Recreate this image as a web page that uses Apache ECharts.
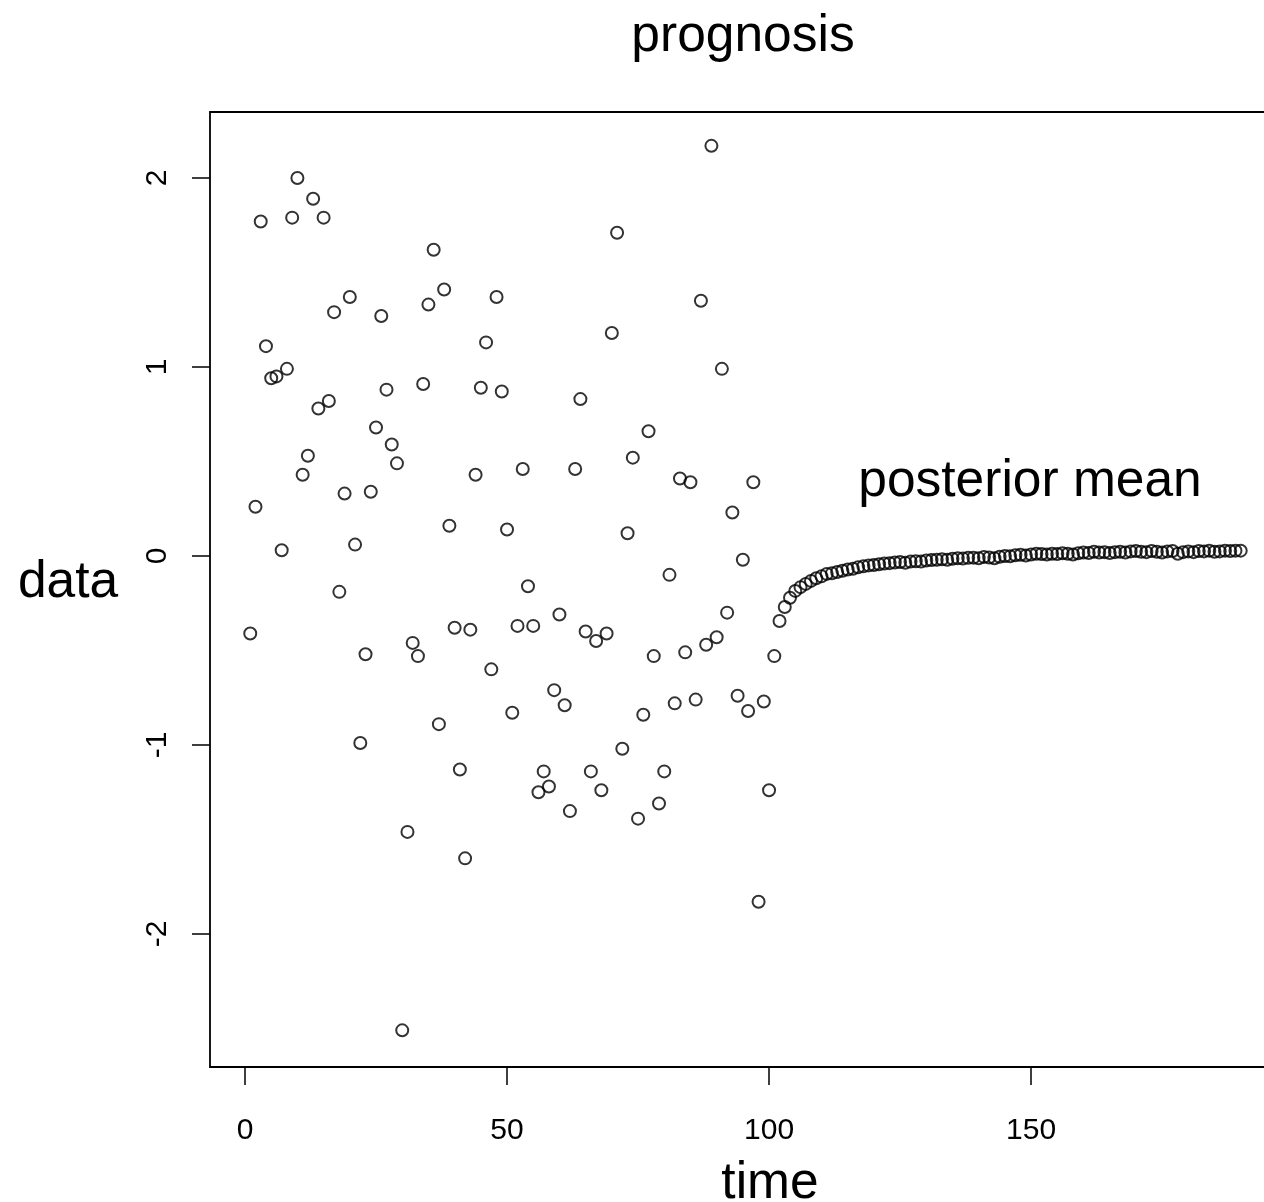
<!DOCTYPE html>
<html>
<head>
<meta charset="utf-8">
<script src="https://cdn.jsdelivr.net/npm/echarts@6/dist/echarts.min.js"></script>
<style>
html,body{margin:0;padding:0;background:#fff;}
#chart{width:1264px;height:1202px;}
</style>
</head>
<body>
<div id="chart"></div>
<script>
// observed data, t = 1..100
var observed = [
 -0.41, 0.26, 1.77, 1.11, 0.94, 0.95, 0.03, 0.99, 1.79, 2.00,
  0.43, 0.53, 1.89, 0.78, 1.79, 0.82, 1.29,-0.19, 0.33, 1.37,
  0.06,-0.99,-0.52, 0.34, 0.68, 1.27, 0.88, 0.59, 0.49,-2.51,
 -1.46,-0.46,-0.53, 0.91, 1.33, 1.62,-0.89, 1.41, 0.16,-0.38,
 -1.13,-1.60,-0.39, 0.43, 0.89, 1.13,-0.60, 1.37, 0.87, 0.14,
 -0.83,-0.37, 0.46,-0.16,-0.37,-1.25,-1.14,-1.22,-0.71,-0.31,
 -0.79,-1.35, 0.46, 0.83,-0.40,-1.14,-0.45,-1.24,-0.41, 1.18,
  1.71,-1.02, 0.12, 0.52,-1.39,-0.84, 0.66,-0.53,-1.31,-1.14,
 -0.10,-0.78, 0.41,-0.51, 0.39,-0.76, 1.35,-0.47, 2.17,-0.43,
  0.99,-0.30, 0.23,-0.74,-0.02,-0.82, 0.39,-1.83,-0.77,-1.24
];
// posterior mean, t = 101..190
var posteriorMean = [
 -0.53,-0.344,-0.27,-0.221,-0.185,-0.165,-0.148,-0.132,-0.118,-0.108,
 -0.095,-0.092,-0.085,-0.078,-0.072,-0.068,-0.060,-0.055,-0.050,-0.048,
 -0.044,-0.040,-0.038,-0.035,-0.032,-0.036,-0.030,-0.028,-0.030,-0.024,
 -0.022,-0.020,-0.018,-0.020,-0.015,-0.012,-0.014,-0.010,-0.009,-0.012,
 -0.005,-0.008,-0.012,-0.004, 0.000,-0.002, 0.004, 0.006, 0.002, 0.008,
  0.012, 0.010, 0.008, 0.012, 0.010, 0.014, 0.012, 0.008, 0.014, 0.018,
  0.016, 0.022, 0.018, 0.020, 0.016, 0.020, 0.022, 0.018, 0.024, 0.026,
  0.022, 0.020, 0.026, 0.022, 0.018, 0.024, 0.026, 0.012, 0.020, 0.024,
  0.020, 0.026, 0.024, 0.028, 0.022, 0.024, 0.028, 0.026, 0.028, 0.028
];
var xTicks = [0, 50, 100, 150];
var yTicks = [-2, -1, 0, 1, 2];
var titleText = 'prognosis';
var xLabel = 'time';
var yLabel = 'data';
var annotation = 'posterior mean';

var points = [];
for (var i = 0; i < observed.length; i++) points.push([i + 1, observed[i]]);
for (var j = 0; j < posteriorMean.length; j++) points.push([observed.length + j + 1, posteriorMean[j]]);

var FONT = 'Liberation Sans, Arial, Helvetica, sans-serif';
var chart = echarts.init(document.getElementById('chart'), null, {renderer: 'canvas'});
chart.setOption({
  backgroundColor: '#ffffff',
  animation: false,
  grid: {left: 210, top: 112, width: 1070, height: 955, show: true,
         containLabel: false, outerBoundsMode: 'none',
         borderColor: '#000', borderWidth: 1.8, backgroundColor: 'transparent'},
  xAxis: {
    type: 'value', min: -6.68, max: 197.5,
    axisLine: {show: false, onZero: false},
    splitLine: {show: false},
    axisTick: {show: true, inside: false, length: 18, customValues: xTicks,
               lineStyle: {color: '#000', width: 1.5}},
    axisLabel: {show: true, customValues: xTicks, margin: 49,
                color: '#000', fontSize: 30, fontFamily: FONT}
  },
  yAxis: {
    type: 'value', min: -2.704, max: 2.349,
    axisLine: {show: false, onZero: false},
    splitLine: {show: false},
    axisTick: {show: true, inside: false, length: 18, customValues: yTicks,
               lineStyle: {color: '#000', width: 1.5}},
    axisLabel: {show: true, customValues: yTicks, margin: 37, rotate: 90,
                color: '#000', fontSize: 30, fontFamily: FONT}
  },
  series: [{
    type: 'scatter',
    data: points,
    symbol: 'circle',
    symbolSize: 12,
    itemStyle: {color: 'rgba(0,0,0,0)', borderColor: '#000', borderWidth: 2},
    emphasis: {disabled: true}
  }],
  graphic: [
    {type: 'text', x: 743, y: 37, style: {text: titleText, fill: '#000', font: '51.5px ' + FONT, align: 'center', verticalAlign: 'middle'}},
    {type: 'text', x: 1030, y: 482, style: {text: annotation, fill: '#000', font: '51.5px ' + FONT, align: 'center', verticalAlign: 'middle'}},
    {type: 'text', x: 68, y: 583, style: {text: yLabel, fill: '#000', font: '51.5px ' + FONT, align: 'center', verticalAlign: 'middle'}},
    {type: 'text', x: 770, y: 1184, style: {text: xLabel, fill: '#000', font: '51.5px ' + FONT, align: 'center', verticalAlign: 'middle'}}
  ]
});
</script>
</body>
</html>
